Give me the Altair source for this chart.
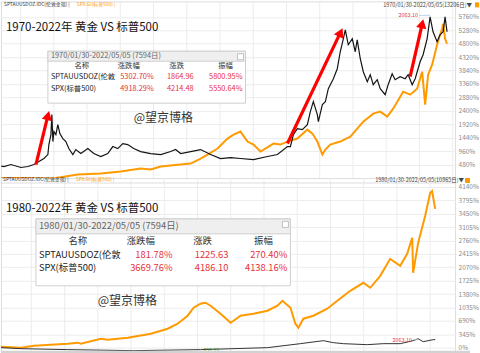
import altair as alt
import pandas as pd

FONT = "Noto Sans CJK SC"
ORANGE = "#ff9a00"
BLACK = "#151515"
RED_TXT = "#e5323c"
ARROW = "#ff0000"
GRID = "#ececec"

# ---------------- Panel 1 : 1970-2022 ----------------
p1_gold_year = [1970.00, 1970.35, 1971.17, 1972.34, 1973.16, 1973.86, 1974.45, 1975.04, 1975.50, 1975.62, 1975.86,
                1975.97, 1976.09, 1976.21, 1976.44, 1976.67, 1976.91, 1977.26, 1977.61, 1977.96, 1978.43,
                1978.78, 1979.37, 1980.19, 1980.89, 1981.71, 1982.53, 1983.12, 1983.70, 1984.29, 1984.87,
                1985.57, 1986.39, 1987.57, 1988.74, 1989.91, 1990.49, 1991.08, 1992.25, 1993.42, 1994.59,
                1995.76, 1996.93, 1998.10, 1999.63, 2001.27, 2002.44, 2003.61, 2003.96, 2004.31, 2004.78,
                2005.36, 2005.95, 2006.30, 2006.65, 2007.12, 2007.24, 2007.71, 2008.06, 2008.41, 2009.00,
                2009.46, 2009.81, 2010.17, 2010.40, 2010.75, 2011.22, 2011.57, 2011.80, 2012.16, 2012.51,
                2012.98, 2013.33, 2013.68, 2014.15, 2014.50, 2015.08, 2015.43, 2015.90, 2016.25, 2016.84,
                2017.43, 2017.78, 2018.25, 2018.60, 2019.18, 2019.53, 2020.00, 2020.35, 2020.70, 2021.17,
                2021.52, 2021.88, 2022.11, 2022.34]
p1_gold_pct = [430, 410, 482, 375, 410, 482, 589, 696, 838, 1195, 1552,
               2265, 1302, 1659, 1552, 1908, 1587, 1409, 1302, 1052, 838,
               1017, 874, 1052, 874, 767, 874, 1124, 1052, 1231, 1195,
               1052, 945, 874, 838, 945, 1017, 874, 945, 1017, 838,
               696, 731, 696, 660, 767, 838, 1124, 1124, 1552, 1766,
               1730, 1908, 2372, 2729, 2265, 2015, 2622, 2729, 3192, 3549,
               3906, 4512, 4976, 5297, 4762, 4976, 4512, 4940, 4263, 3799,
               3442, 3692, 3335, 3513, 3192, 2978, 3335, 3728, 3513, 3620,
               3549, 3692, 3335, 3549, 4156, 4405, 4976, 5761, 5226, 4869,
               5119, 5226, 5761, 5226]
p1_spx_year = [1970.00, 1972.34, 1974.68, 1976.44, 1979.02, 1981.71, 1984.05, 1986.39, 1987.57, 1988.74,
               1991.08, 1992.25, 1993.42, 1994.24, 1995.41, 1996.58, 1997.28, 1998.10, 1998.92, 1999.63,
               2000.45, 2001.03, 2001.97, 2002.79, 2003.61, 2004.78, 2005.95, 2006.54, 2007.12, 2007.71,
               2008.06, 2008.64, 2009.81, 2010.99, 2011.80, 2012.51, 2013.68, 2014.50, 2015.32, 2016.02,
               2017.19, 2018.01, 2018.83, 2019.42, 2019.77, 2020.12, 2020.59, 2021.17, 2021.52, 2021.76,
               2021.88, 2022.11, 2022.34]
p1_spx_pct = [0, 0, -10, 0, 125, 160, 232, 339, 303, 410,
              482, 517, 696, 838, 1052, 1409, 1552, 1659, 1302, 1195,
              945, 1052, 1231, 1195, 1302, 1409, 1730, 1587, 1302, 838,
              1017, 1195, 1302, 1480, 1766, 2015, 2301, 2372, 2194, 2479,
              3085, 2978, 3192, 3799, 2622, 3692, 4049, 4762, 5119, 5333,
              5511, 4976, 4798]
p1_ticks = [480, 960, 1440, 1920, 2400, 2880, 3360, 3840, 4320, 4800, 5280, 5760]
p1_grid_years = [1972.3, 1976.2, 1980.1, 1984.0, 1987.9, 1991.8, 1995.7, 1999.6,
                 2003.5, 2007.4, 2011.3, 2015.2, 2019.1, 2023.0]
p1_arrow_year = [1974.10, 2003.61, 2018.01]
p1_arrow_pct = [482, 1231, 3620]
p1_arrow_year2 = [1975.45, 2009.74, 2019.38]
p1_arrow_pct2 = [2165, 5140, 5447]
p1_head_year = [1975.51, 2009.85, 2019.43]
p1_head_pct = [2233, 5204, 5515]
p1_head_angle = [14, 26, 13]

# ---------------- Panel 2 : 1980-2022 ----------------
p2_spx_year = [1980.00, 1981.95, 1983.21, 1986.52, 1987.50, 1987.79, 1989.74, 1990.42, 1992.37, 1994.61,
               1996.26, 1997.23, 1998.21, 1998.79, 1999.47, 1999.96, 2000.45, 2001.42, 2002.40, 2002.69,
               2003.37, 2004.63, 2006.00, 2006.97, 2007.46, 2008.24, 2008.72, 2009.02, 2009.50, 2010.48,
               2011.84, 2012.81, 2014.08, 2015.35, 2016.03, 2017.00, 2017.97, 2018.95, 2019.63, 2020.12,
               2020.21, 2020.70, 2021.38, 2021.87, 2022.06, 2022.36]
p2_spx_pct = [26, 0, 51, 103, 129, 103, 231, 206, 257, 360,
              488, 617, 823, 1028, 1131, 1157, 1080, 874, 643, 694,
              823, 874, 951, 1080, 1208, 1028, 617, 514, 746, 823,
              1003, 1208, 1465, 1671, 1543, 1851, 2288, 2108, 2417, 2828,
              1928, 2700, 3394, 3985, 4036, 3574]
p2_gold_year = [1980.00, 1981.95, 1986.52, 1992.95, 1999.47, 2006.00, 2009.21, 2011.45, 2012.42,
                2013.40, 2015.73, 2017.29, 2018.95, 2020.21, 2020.70, 2021.19, 2022.16, 2022.36]
p2_gold_pct = [0, -26, -51, -77, -51, 0, 103, 180, 129, 103, 77, 103, 103, 180, 231, 154, 206, 206]
p2_ticks = [0, 345, 690, 1035, 1380, 1725, 2070, 2415, 2760, 3105, 3450, 3795, 4140]
p2_grid_years = [1982.96, 1986.21, 1989.45, 1992.69, 1995.93, 1999.18, 2002.42, 2005.66,
                 2008.90, 2012.15, 2015.39, 2018.63, 2021.87]

# ---------------- texts ----------------
legend_gold = "SPTAUUSDOZ.IDC(伦敦金现) |"
legend_spx = "SPX.GI(标普500) |"
p1_range = "1970/01/30-2022/05/05(13206日)▼"
p2_range = "1980/01/30-2022/05/05(10865日)▼"
p1_title = "1970-2022年  黄金 VS 标普500"
p2_title = "1980-2022年  黄金 VS 标普500"
watermark = "@望京博格"
peak_label = "2063.10"
low_label = "252.55"
t_cols = ["名称", "涨跌幅", "涨跌", "振幅"]
t_names = ["SPTAUUSDOZ(伦敦", "SPX(标普500)"]
t1_title = "1970/01/30-2022/05/05 (7594日)"
t1_pct = ["5302.70%", "4918.29%"]
t1_chg = ["1864.96", "4214.48"]
t1_amp = ["5800.95%", "5550.64%"]
t2_title = "1980/01/30-2022/05/05 (7594日)"
t2_pct = ["181.78%", "3669.76%"]
t2_chg = ["1225.63", "4186.10"]
t2_amp = ["270.40%", "4138.16%"]

ONE = alt.Data(values=[{"k": 1}])
W = 455


def txt(x, y, s, size=7, color="#333", align="left", weight="normal"):
    return alt.Chart(ONE).mark_text(text=s, fontSize=size, color=color, align=align,
                                    baseline="middle", font=FONT, fontWeight=weight).encode(
        x=alt.value(x), y=alt.value(y))


def box(x0, x1, y0, y1, fill="white", stroke=None, sw=1):
    kw = dict(fill=fill)
    if stroke:
        kw.update(stroke=stroke, strokeWidth=sw)
    return alt.Chart(ONE).mark_rect(**kw).encode(
        x=alt.value(x0), x2=alt.value(x1), y=alt.value(y0), y2=alt.value(y1))


def hline(x0, x1, y, color, sw=1):
    return alt.Chart(ONE).mark_rule(color=color, strokeWidth=sw).encode(
        x=alt.value(x0), x2=alt.value(x1), y=alt.value(y))


def table(x0, x1, y0, y1, hdr_h, title, pct, chg, amp, size, col_x, name_x, num_r, col_y, row_y):
    L = [box(x0, x1, y0, y1, "white", "#cfcfcf"),
         box(x0, x1, y0, y0 + hdr_h, "#efefef", "#cfcfcf"),
         txt(x0 + 3, y0 + hdr_h / 2, title, size, "#666"),
         box(x1 - 8, x1 - 2, y0 + 2.5, y0 + 8.5, "white", "#aaaaaa", 0.7)]
    for c, cx in zip(t_cols, col_x):
        L.append(txt(cx, col_y, c, size, "#333", "center"))
    for i, ry in enumerate(row_y):
        L.append(txt(name_x, ry, t_names[i], size, "#222"))
        L.append(txt(num_r[0], ry, pct[i], size, RED_TXT, "right"))
        L.append(txt(num_r[1], ry, chg[i], size, RED_TXT, "right"))
        L.append(txt(num_r[2], ry, amp[i], size, RED_TXT, "right"))
    return L


def axisY(ticks):
    return alt.Axis(orient="right", values=ticks, labelExpr="datum.value + '%'", title=None,
                    grid=True, gridColor=GRID, gridWidth=1, ticks=False, domain=False,
                    labelFontSize=6.5, labelColor="#8a8a8a", labelFont=FONT, labelPadding=3,
                    labelOverlap=False)


# ---------- panel 1 ----------
X1 = alt.X("year:Q", scale=alt.Scale(domain=[1970, 2023.28], nice=False, zero=False), axis=None)
Y1 = alt.Y("pct:Q", scale=alt.Scale(domain=[0, 6313], nice=False, zero=False), axis=axisY(p1_ticks))

vg1 = alt.Chart(pd.DataFrame({"year": p1_grid_years})).mark_rule(color=GRID, strokeWidth=1).encode(x=X1)
spx1 = alt.Chart(pd.DataFrame({"year": p1_spx_year, "pct": p1_spx_pct})).mark_line(
    color=ORANGE, strokeWidth=2.0, clip=True).encode(x=X1, y=Y1)
gold1 = alt.Chart(pd.DataFrame({"year": p1_gold_year, "pct": p1_gold_pct})).mark_line(
    color=BLACK, strokeWidth=1.2, clip=True).encode(x=X1, y=Y1)
arr_df = pd.DataFrame({"year": p1_arrow_year, "pct": p1_arrow_pct,
                       "year2": p1_arrow_year2, "pct2": p1_arrow_pct2})
arrows = alt.Chart(arr_df).mark_rule(color=ARROW, strokeWidth=3.2).encode(
    x=X1, y=Y1, x2="year2:Q", y2="pct2:Q")
head_df = pd.DataFrame({"year": p1_head_year, "pct": p1_head_pct, "ang": p1_head_angle})
heads = alt.Chart(head_df).mark_point(shape="triangle-up", filled=True, size=110, color=ARROW,
                                      opacity=1).encode(
    x=X1, y=Y1, angle=alt.Angle("ang:Q", scale=None))

p1_layers = [vg1, spx1, gold1, arrows, heads,
             hline(419, 430, 14, "#9cc8e8", 0.8),
             txt(418, 14, peak_label, 5.5, RED_TXT, "right"),
             txt(3, 4, legend_gold, 4.9, "#333"),
             txt(76, 4, legend_spx, 4.9, ORANGE),
             txt(472, 3.5, p1_range, 5.5, "#444", "right"),
             box(475, 479, 1, 6, ORANGE),
             txt(5, 27, p1_title, 11.5, "#111"),
             txt(133, 117, watermark, 12, "#333")]
p1_layers += table(47, 245, 50, 102, 10, t1_title, t1_pct, t1_chg, t1_amp, 7.4,
                   [81, 128, 176, 225], 50, [153, 193, 242], 65, [76, 88])
p1 = alt.layer(*p1_layers).properties(width=W, height=177)

# ---------- panel 2 ----------
X2 = alt.X("year:Q", scale=alt.Scale(domain=[1980, 2024.30], nice=False, zero=False), axis=None)
Y2 = alt.Y("pct:Q", scale=alt.Scale(domain=[-154, 4371], nice=False, zero=False), axis=axisY(p2_ticks))

vg2 = alt.Chart(pd.DataFrame({"year": p2_grid_years})).mark_rule(color=GRID, strokeWidth=1).encode(x=X2)
spx2 = alt.Chart(pd.DataFrame({"year": p2_spx_year, "pct": p2_spx_pct})).mark_line(
    color=ORANGE, strokeWidth=2.0, clip=True).encode(x=X2, y=Y2)
gold2 = alt.Chart(pd.DataFrame({"year": p2_gold_year, "pct": p2_gold_pct})).mark_line(
    color="#333333", strokeWidth=1.0, clip=True).encode(x=X2, y=Y2)

p2_layers = [vg2, hline(0, W, 5, "#dddddd"), spx2, gold2,
             hline(413, 418, 162, "#9cc8e8", 0.8),
             txt(412, 162, peak_label, 5.5, RED_TXT, "right"),
             txt(203, 172, low_label, 5, "#2a9d2a"),
             box(0, 470, 173, 176, "#d2d2d2"),
             txt(2, 2.5, legend_gold, 4.9, "#333"),
             txt(75, 2.5, legend_spx, 4.9, ORANGE),
             txt(464, 2.5, p2_range, 5.5, "#444", "right"),
             box(465, 470, 0, 5, ORANGE),
             txt(5, 31, p2_title, 11.5, "#111"),
             txt(97, 123, watermark, 12, "#333")]
p2_layers += table(35, 290, 41, 108, 15, t2_title, t2_pct, t2_chg, t2_amp, 9.4,
                   [77, 140, 202, 263], 38, [172, 228, 287], 63, [77, 90])
p2 = alt.layer(*p2_layers).properties(width=W, height=176)

chart = alt.vconcat(p1, p2, spacing=0).properties(padding=0, bounds="flush").configure_view(
    stroke="transparent").configure(background="white")

chart.save("out.html", embed_options={"renderer": "svg", "actions": False})
